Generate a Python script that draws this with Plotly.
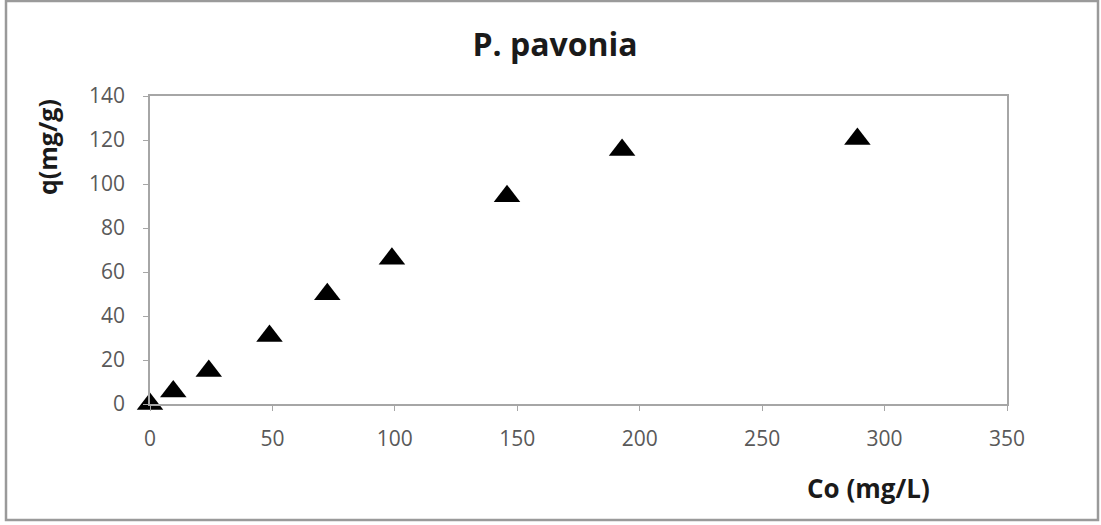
import plotly.graph_objects as go

co = [0, 9.5, 24, 48.8, 72.4, 98.8, 145.8, 192.8, 288.9]
q = [0, 5.7, 15.0, 30.9, 49.9, 66.0, 94.4, 115.4, 120.4]

x_ticks = [0, 50, 100, 150, 200, 250, 300, 350]
y_ticks = [0, 20, 40, 60, 80, 100, 120, 140]

W, H = 1101, 525
L, R, T, B = 150, 94, 96, 121
pw, ph = W - L - R, H - T - B

def px2paper_x(px):
    return (px - L) / pw

def px2paper_y(py):
    return (H - B - py) / ph

fig = go.Figure()
fig.add_trace(go.Scatter(
    x=co, y=q, mode="markers",
    marker=dict(symbol="triangle-up", size=23, color="black"),
    cliponaxis=False, showlegend=False,
))

tick_font = dict(family="Open Sans", size=21, color="#595959")
fig.update_xaxes(
    range=[0, 350], tickvals=x_ticks, showgrid=False, zeroline=False,
    showline=True, linecolor="#a6a6a6", linewidth=1.5, mirror=True,
    ticks="outside", ticklen=5, tickcolor="#a6a6a6", tickfont=tick_font,
    ticklabelstandoff=10,
)
fig.update_yaxes(
    range=[0, 140], tickvals=y_ticks, showgrid=False, zeroline=False,
    showline=True, linecolor="#a6a6a6", linewidth=1.5, mirror=True,
    ticks="outside", ticklen=5, tickcolor="#a6a6a6", tickfont=tick_font,
    ticklabelstandoff=14,
)

fig.update_layout(
    width=W, height=H,
    margin=dict(l=L, r=R, t=T, b=B),
    paper_bgcolor="white", plot_bgcolor="white",
    title=dict(text="<b>P. pavonia</b>", x=px2paper_x(555), xref="paper", xanchor="center",
               y=1 - 45 / H, yanchor="middle",
               font=dict(family="Open Sans", size=32, color="#1a1a1a")),
    annotations=[
        dict(text="<b>q(mg/g)</b>", x=px2paper_x(47), y=px2paper_y(147),
             xref="paper", yref="paper", showarrow=False, textangle=-90,
             xanchor="center", yanchor="middle",
             font=dict(family="Open Sans", size=25, color="#1a1a1a")),
        dict(text="<b>Co (mg/L)</b>", x=px2paper_x(868), y=px2paper_y(488),
             xref="paper", yref="paper", showarrow=False,
             xanchor="center", yanchor="middle",
             font=dict(family="Open Sans", size=26, color="#1a1a1a")),
    ],
    shapes=[
        dict(type="rect", xref="paper", yref="paper",
             x0=px2paper_x(6), x1=px2paper_x(1098),
             y0=px2paper_y(520), y1=px2paper_y(1),
             line=dict(color="#9a9a9a", width=2.5), layer="below"),
    ],
)

fig.write_html("out.html")
